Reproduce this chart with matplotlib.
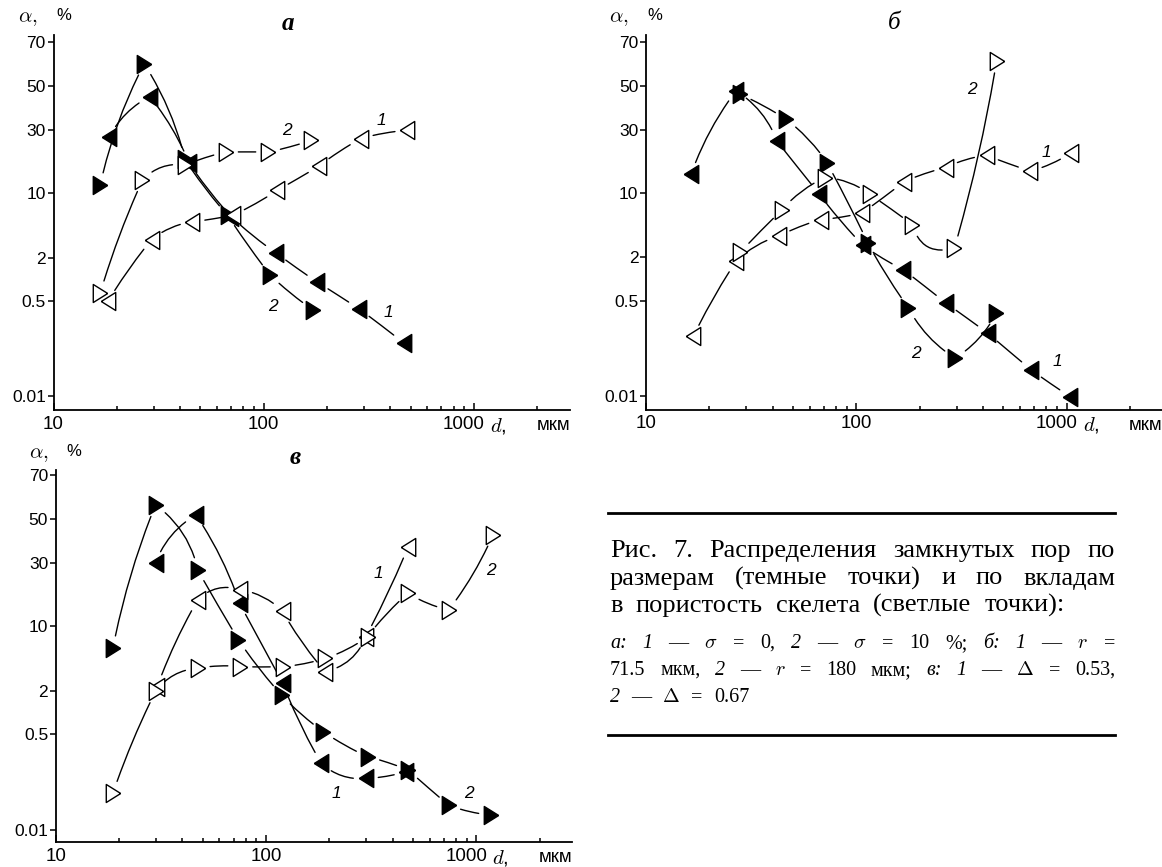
import math
import numpy as np
import matplotlib
matplotlib.use("Agg")
import matplotlib.pyplot as plt
from matplotlib.patches import FancyArrowPatch
from matplotlib.lines import Line2D
from matplotlib.ticker import LogLocator, NullFormatter, NullLocator
from matplotlib.transforms import IdentityTransform

plt.rcParams["font.family"] = ["Liberation Sans", "DejaVu Sans"]
plt.rcParams["mathtext.fontset"] = "cm"

# ---------------- data ----------------
x_ticks = [10, 100, 1000]
x_tick_labels = ["10", "100", "1000"]
y_ticks = [0.01, 0.5, 2, 10, 30, 50, 70]
y_tick_labels = ["0.01", "0.5", "2", "10", "30", "50", "70"]
panel_titles = ["а", "б", "в"]
x_unit = "мкм"

# panel а  (dark = pore size distribution, light = contribution to porosity)
a_dark1_x = [18.4, 28.7, 44, 70, 114, 180, 284, 462]
a_dark1_y = [27, 45, 18, 5.9, 2.3, 0.94, 0.38, 0.105]
a_dark2_x = [16.7, 27, 42.2, 67.3, 107, 171]
a_dark2_y = [11.8, 60.5, 19, 6.1, 1.19, 0.37]
a_light1_x = [18.2, 29.3, 45.8, 71.5, 116, 183, 290, 482]
a_light1_y = [0.5, 3.3, 5.2, 6.1, 10.6, 16.9, 26.5, 29.8]
a_light2_x = [16.7, 26.5, 42.2, 66, 105, 168]
a_light2_y = [0.66, 13, 17.2, 21.5, 21.5, 25.8]

# panel б
b_dark1_x = [16.4, 26.8, 41.9, 66.8, 107.6, 167, 267, 422, 679, 1041]
b_dark1_y = [14.5, 47.7, 25.5, 9.7, 2.8, 1.38, 0.46, 0.151, 0.033, 0.0097]
b_dark2_x = [27.9, 46.3, 72.5, 113.4, 177, 295, 462]
b_dark2_y = [46.1, 34.5, 17.9, 3.0, 0.39, 0.055, 0.32]
b_light1_x = [16.8, 26.8, 42.7, 67.7, 106.7, 168, 267, 417, 671, 1050]
b_light1_y = [0.133, 1.77, 3.58, 5.46, 6.41, 12.5, 16.4, 20.3, 15.4, 21.2]
b_light2_x = [28.1, 44.5, 71.1, 115.8, 185, 293, 465]
b_light2_y = [2.3, 6.9, 13.6, 9.7, 4.8, 2.6, 62]

# panel в
c_dark1_x = [29.8, 46.4, 74.8, 120, 183, 298, 464]
c_dark1_y = [29.8, 51.8, 15.6, 2.47, 0.174, 0.096, 0.126]
c_dark2_x = [18.7, 29.8, 47.3, 73.9, 118.5, 187, 304, 474, 739, 1175]
c_dark2_y = [6.1, 56.6, 27.1, 7.4, 1.76, 0.55, 0.224, 0.134, 0.031, 0.020]
c_light1_x = [30.4, 47.3, 75.4, 120, 191, 298, 474]
c_light1_y = [2.25, 16.6, 19.8, 13.4, 3.39, 7.96, 37]
c_light2_x = [18.7, 29.8, 47.3, 75.4, 120, 191, 304, 474, 739, 1199]
c_light2_y = [0.052, 1.95, 3.7, 3.87, 3.87, 4.78, 7.96, 18.7, 13.8, 42.4]

# curve numbers
a_curve_labels = ["1", "2", "2", "1"]
b_curve_labels = ["2", "1", "2", "1"]
c_curve_labels = ["1", "2", "1", "2"]

caption_par1 = [
    "Рис. 7. Распределения замкнутых пор по",
    "размерам (темные точки) и по вкладам",
    "в пористость скелета (светлые точки):",
]
# (token, style): n = normal, i = italic, m = math
caption_par2 = [
    [("а:", "i"), ("1", "i"), ("—", "n"), (r"$\sigma$", "m"), ("=", "n"), ("0,", "n"),
     ("2", "i"), ("—", "n"), (r"$\sigma$", "m"), ("=", "n"), ("10", "n"), ("%;", "n"),
     ("б:", "i"), ("1", "i"), ("—", "n"), (r"$r$", "m"), ("=", "n")],
    [("71.5", "n"), ("мкм,", "n"), ("2", "i"), ("—", "n"), (r"$r$", "m"), ("=", "n"),
     ("180", "n"), ("мкм;", "n"), ("в:", "i"), ("1", "i"), ("—", "n"), (r"$\Delta$", "m"),
     ("=", "n"), ("0.53,", "n")],
    [("2", "i"), ("—", "n"), (r"$\Delta$", "m"), ("=", "n"), ("0.67", "n")],
]

# ---------------- layout / style ----------------
W, H = 1162, 867
a_label_pos = [(362, 34), (129, 29.8), (110, 0.42), (393, 0.33)]
b_label_pos = [(354, 48.5), (800, 21.2), (192, 0.067), (904, 0.047)]
c_label_pos = [(343, 25.8), (1175, 27), (215, 0.052), (922, 0.052)]

LEFT_TRI = [(-0.8, 0.0), (0.8, 1.0), (0.8, -1.0), (-0.8, 0.0)]
RIGHT_TRI = [(0.8, 0.0), (-0.8, 1.0), (-0.8, -1.0), (0.8, 0.0)]


# ---------------- probability (probit) scale ----------------
_A = [-3.969683028665376e+01, 2.209460984245205e+02, -2.759285104469687e+02,
      1.383577518672690e+02, -3.066479806614716e+01, 2.506628277459239e+00]
_B = [-5.447609879822406e+01, 1.615858368580409e+02, -1.556989798598866e+02,
      6.680131188771972e+01, -1.328068155288572e+01]
_C = [-7.784894002430293e-03, -3.223964580411365e-01, -2.400758277161838e+00,
      -2.549671010429720e+00, 4.374664141464968e+00, 2.938163982698783e+00]
_D = [7.784695709041462e-03, 3.224671290700398e-01, 2.445134137142996e+00,
      3.754408661907416e+00]


def _ppf(q):
    q = np.asarray(q, dtype=float)
    shape = q.shape
    q = np.atleast_1d(q).ravel()
    q = np.clip(q, 1e-12, 1 - 1e-12)
    out = np.full(q.shape, np.nan)
    plow = 0.02425
    with np.errstate(all="ignore"):
        lo = q < plow
        hi = q > 1 - plow
        mid = ~(lo | hi) & np.isfinite(q)
        if lo.any():
            t = np.sqrt(-2 * np.log(q[lo]))
            out[lo] = (((((_C[0]*t + _C[1])*t + _C[2])*t + _C[3])*t + _C[4])*t + _C[5]) / \
                      ((((_D[0]*t + _D[1])*t + _D[2])*t + _D[3])*t + 1)
        if hi.any():
            t = np.sqrt(-2 * np.log(1 - q[hi]))
            out[hi] = -(((((_C[0]*t + _C[1])*t + _C[2])*t + _C[3])*t + _C[4])*t + _C[5]) / \
                       ((((_D[0]*t + _D[1])*t + _D[2])*t + _D[3])*t + 1)
        if mid.any():
            s = q[mid] - 0.5
            r = s * s
            out[mid] = (((((_A[0]*r + _A[1])*r + _A[2])*r + _A[3])*r + _A[4])*r + _A[5]) * s / \
                       (((((_B[0]*r + _B[1])*r + _B[2])*r + _B[3])*r + _B[4])*r + 1)
    return out.reshape(shape)


_erf = np.vectorize(math.erf, otypes=[float])


def _cdf(z):
    z = np.asarray(z, dtype=float)
    return 0.5 * (1 + _erf(z / math.sqrt(2)))


def pct_forward(v):
    return _ppf(np.asarray(v, dtype=float) / 100.0)


def pct_inverse(z):
    return _cdf(z) * 100.0


# ---------------- figure ----------------
fig = plt.figure(figsize=(W / 100, H / 100), dpi=100)


def px_axes(left, top, width, height):
    return fig.add_axes([left / W, 1 - (top + height) / H, width / W, height / H])


ax_a = px_axes(53.5, 35, 516.2, 375)
ax_b = px_axes(646, 35, 516.2, 374.5)
ax_c = px_axes(55.8, 470, 516.2, 372)

XLABEL_SIZE = 13.5


def setup(ax, ylim):
    ax.set_xscale("log")
    ax.set_yscale("function", functions=(pct_forward, pct_inverse))
    ax.set_xlim(10, 2850)
    ax.set_ylim(*ylim)
    ax.set_facecolor("none")
    for s in ("top", "right"):
        ax.spines[s].set_visible(False)
    for s in ("left", "bottom"):
        ax.spines[s].set_linewidth(1.3)
    # the last major label is drawn by hand (shifted left to leave room for the unit)
    ax.set_xticks(x_ticks, labels=x_tick_labels[:-1] + [""])
    ax.xaxis.set_minor_locator(LogLocator(base=10, subs=np.arange(2, 10), numticks=20))
    ax.xaxis.set_minor_formatter(NullFormatter())
    ax.set_yticks(y_ticks, labels=y_tick_labels)
    ax.yaxis.set_minor_locator(NullLocator())
    ax.tick_params(axis="x", which="major", direction="in", length=5, width=1.1, pad=4,
                   labelsize=XLABEL_SIZE)
    ax.tick_params(axis="x", which="minor", direction="in", length=2.6, width=1.1)
    ax.tick_params(axis="y", which="major", direction="out", length=4, width=1.1, pad=1.5,
                   labelsize=12.5)


def markers(ax, x, y, shape, filled):
    ax.plot(x, y, linestyle="none", marker=shape, ms=13,
            mfc="black" if filled else "white", mec="black", mew=1.0,
            zorder=3, clip_on=False)


def connect(ax, x, y, gap=9.0, tension=1.0):
    P = ax.transData.transform(np.column_stack([x, y]))
    n = len(P)
    T = np.zeros_like(P)
    T[0] = P[1] - P[0]
    T[-1] = P[-1] - P[-2]
    for i in range(1, n - 1):
        T[i] = (P[i + 1] - P[i - 1]) / 2.0
    T *= tension
    for i in range(n - 1):
        A, B = P[i], P[i + 1]
        c1 = A + T[i] / 3.0
        c2 = B - T[i + 1] / 3.0
        Cq = (3 * (c1 + c2) - (A + B)) / 4.0
        d = B - A
        M = (A + B) / 2.0
        rad = float(np.dot(Cq - M, [d[1], -d[0]]) / np.dot(d, d))
        ax.add_patch(FancyArrowPatch((x[i], y[i]), (x[i + 1], y[i + 1]),
                                     arrowstyle="-", connectionstyle=f"arc3,rad={rad:.4f}",
                                     shrinkA=gap, shrinkB=gap, lw=1.0, color="black",
                                     zorder=2, clip_on=False))


def decorate(ax, title, tfrac, tweight, labels, label_pos, alpha_dx):
    ax.annotate(title, xy=(tfrac, 1), xycoords="axes fraction", xytext=(0, 12),
                textcoords="offset pixels", ha="center", va="center", fontsize=18,
                fontstyle="italic", fontweight=tweight, family="Liberation Serif")
    ax.annotate(r"$\alpha,$", xy=(0, 1), xycoords="axes fraction", xytext=(alpha_dx, 16),
                textcoords="offset pixels", ha="left", va="center", fontsize=15)
    ax.annotate("%", xy=(0, 1), xycoords="axes fraction", xytext=(alpha_dx + 38, 19),
                textcoords="offset pixels", ha="left", va="center", fontsize=12)
    # last x tick label, shifted a little to the left of its tick
    ax.annotate(x_tick_labels[-1], xy=(x_ticks[-1], 0), xycoords=("data", "axes fraction"),
                xytext=(-10, -5.6), textcoords="offset pixels", ha="center", va="top",
                fontsize=XLABEL_SIZE)
    ax.annotate(r"$d$,", xy=(x_ticks[-1], 0), xycoords=("data", "axes fraction"),
                xytext=(16, -5.6), textcoords="offset pixels", ha="left", va="top", fontsize=15)
    ax.annotate(x_unit, xy=(x_ticks[-1], 0), xycoords=("data", "axes fraction"),
                xytext=(96, -7.5), textcoords="offset pixels", ha="right", va="top", fontsize=13.5)
    for s, (lx, ly) in zip(labels, label_pos):
        ax.text(lx, ly, s, fontsize=12.5, fontstyle="italic", ha="center", va="center")


panels = [
    (ax_a, (0.0052, 73.0), panel_titles[0], 0.454, "bold", a_curve_labels, a_label_pos, -35,
     (a_dark1_x, a_dark1_y), (a_dark2_x, a_dark2_y), (a_light1_x, a_light1_y), (a_light2_x, a_light2_y)),
    (ax_b, (0.0052, 73.0), panel_titles[1], 0.48, "normal", b_curve_labels, b_label_pos, -37,
     (b_dark1_x, b_dark1_y), (b_dark2_x, b_dark2_y), (b_light1_x, b_light1_y), (b_light2_x, b_light2_y)),
    (ax_c, (0.0056, 72.0), panel_titles[2], 0.464, "bold", c_curve_labels, c_label_pos, -27,
     (c_dark1_x, c_dark1_y), (c_dark2_x, c_dark2_y), (c_light1_x, c_light1_y), (c_light2_x, c_light2_y)),
]

for ax, ylim, title, tfrac, tw, labels, lpos, adx, d1, d2, l1, l2 in panels:
    setup(ax, ylim)
    markers(ax, *d1, LEFT_TRI, True)
    markers(ax, *d2, RIGHT_TRI, True)
    markers(ax, *l1, LEFT_TRI, False)
    markers(ax, *l2, RIGHT_TRI, False)
    for sx, sy in (d1, d2, l1, l2):
        connect(ax, sx, sy)
    decorate(ax, title, tfrac, tw, labels, lpos, adx)

# ---------------- caption ----------------
renderer = fig.canvas.get_renderer()
cap_x0, cap_x1 = 610, 1115
rule_y = [513, 735]
for ry in rule_y:
    fig.add_artist(Line2D([608 / W, 1115 / W], [1 - ry / H, 1 - ry / H], color="black",
                          lw=2.0, transform=fig.transFigure))


def place_line(tokens, baseline, size, justify, nat_gap):
    objs = []
    for s, st in tokens:
        kw = dict(fontsize=size, family=["Liberation Serif", "DejaVu Serif"])
        if st == "i":
            kw["fontstyle"] = "italic"
        t = fig.text(0, 0, s, transform=IdentityTransform(), ha="left", va="baseline", **kw)
        objs.append(t)
    widths = [t.get_window_extent(renderer=renderer).width for t in objs]
    if justify and len(objs) > 1:
        gap = (cap_x1 - cap_x0 - sum(widths)) / (len(objs) - 1)
    else:
        gap = nat_gap * size * 100 / 72
    x = cap_x0
    for t, w in zip(objs, widths):
        t.set_position((x, H - baseline))
        x += w + gap


base1 = [557, 584.5, 612]
for i, line in enumerate(caption_par1):
    toks = [(w, "n") for w in line.split(" ")]
    place_line(toks, base1[i], 19, justify=(i < len(caption_par1) - 1), nat_gap=0.5)

base2 = [648, 675, 702]
for i, toks in enumerate(caption_par2):
    place_line(toks, base2[i], 14.5, justify=(i < len(caption_par2) - 1), nat_gap=0.55)

fig.savefig("out.png", dpi=100)
